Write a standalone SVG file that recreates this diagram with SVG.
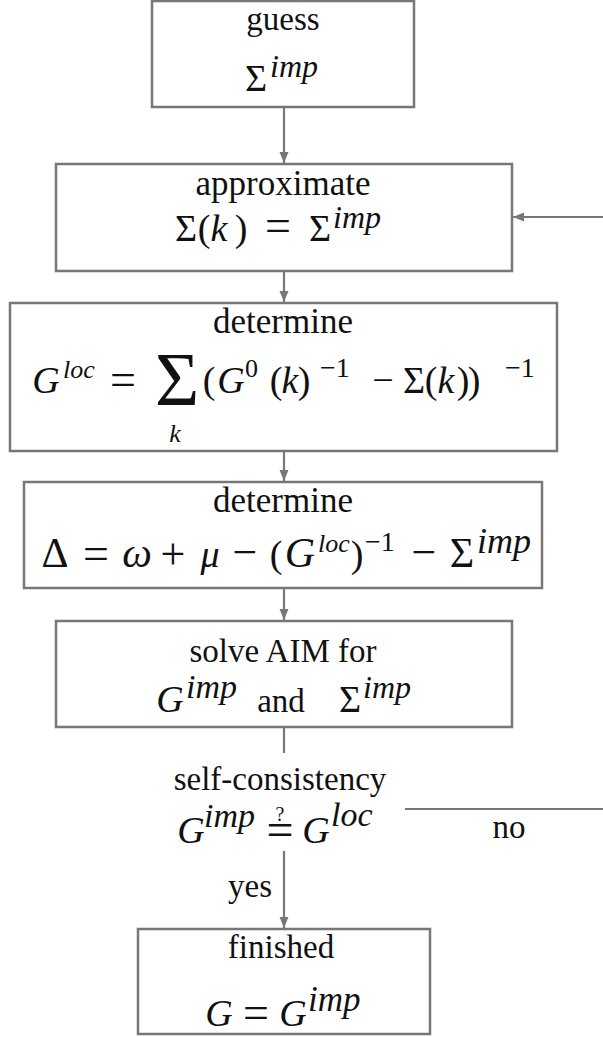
<svg xmlns="http://www.w3.org/2000/svg" width="603" height="1037" viewBox="0 0 603 1037" fill="#111">
<defs>
<marker id="ah" markerUnits="userSpaceOnUse" markerWidth="12" markerHeight="10" refX="11" refY="4.5" orient="auto">
<path d="M0,0 L11,4.5 L0,9 z" fill="#777"/>
</marker>
</defs>
<rect width="603" height="1037" fill="#fff"/>
<g id="connectors" stroke="#777" stroke-width="2.2" fill="none">
<line x1="284" y1="108" x2="284" y2="163" marker-end="url(#ah)"/>
<line x1="284" y1="272" x2="284" y2="302" marker-end="url(#ah)"/>
<line x1="284" y1="452" x2="284" y2="481" marker-end="url(#ah)"/>
<line x1="284" y1="589" x2="284" y2="620" marker-end="url(#ah)"/>
<line x1="284" y1="728" x2="284" y2="753"/>
<line x1="284" y1="851" x2="284" y2="928" marker-end="url(#ah)"/>
<line x1="603" y1="217" x2="513" y2="217" marker-end="url(#ah)"/>
<line x1="405" y1="809" x2="603" y2="809"/>
</g>
<g id="labels" font-size="33" text-anchor="middle">
<text font-family="Liberation Serif" style="font-family:'Liberation Serif',serif" x="250" y="897">yes</text>
<text font-family="Liberation Serif" style="font-family:'Liberation Serif',serif" x="509" y="838">no</text>
</g>
<g id="guess" font-size="38" text-anchor="middle">
<rect x="152" y="1" width="262" height="106" fill="#fff" stroke="#777" stroke-width="2.5"/>
<text font-family="Liberation Serif" style="font-family:'Liberation Serif',serif" x="283" y="30" font-size="33">guess</text>
<text font-family="Liberation Serif" style="font-family:'Liberation Serif',serif" x="256" y="91">Σ</text>
<text font-family="Liberation Serif" style="font-family:'Liberation Serif',serif" x="270" y="77" font-size="32" font-style="italic" text-anchor="start">imp</text>
</g>
<g id="approximate" font-size="38" text-anchor="middle">
<rect x="56" y="164" width="456" height="107" fill="#fff" stroke="#777" stroke-width="2.5"/>
<text font-family="Liberation Serif" style="font-family:'Liberation Serif',serif" x="283" y="195" font-size="35">approximate</text>
<text font-family="Liberation Serif" style="font-family:'Liberation Serif',serif" x="186" y="241">Σ</text>
<text font-family="Liberation Serif" style="font-family:'Liberation Serif',serif" x="204" y="241">(</text>
<text font-family="Liberation Serif" style="font-family:'Liberation Serif',serif" x="219" y="241" font-style="italic">k</text>
<text font-family="Liberation Serif" style="font-family:'Liberation Serif',serif" x="241" y="241">)</text>
<text font-family="Liberation Serif" style="font-family:'Liberation Serif',serif" x="278" y="241" font-size="46">=</text>
<text font-family="Liberation Serif" style="font-family:'Liberation Serif',serif" x="320" y="241">Σ</text>
<text font-family="Liberation Serif" style="font-family:'Liberation Serif',serif" x="333" y="228" font-size="32" font-style="italic" text-anchor="start">imp</text>
</g>
<g id="determine-gloc" font-size="38" text-anchor="middle">
<rect x="10" y="303" width="547" height="148" fill="#fff" stroke="#777" stroke-width="2.5"/>
<text font-family="Liberation Serif" style="font-family:'Liberation Serif',serif" x="283" y="333" font-size="35">determine</text>
<text font-family="Liberation Serif" style="font-family:'Liberation Serif',serif" x="46" y="393" font-style="italic">G</text>
<text font-family="Liberation Serif" style="font-family:'Liberation Serif',serif" x="63" y="378" font-size="26" font-style="italic" text-anchor="start">loc</text>
<text font-family="Liberation Serif" style="font-family:'Liberation Serif',serif" x="123" y="395" font-size="46">=</text>
<text font-family="Liberation Serif" style="font-family:'Liberation Serif',serif" x="177" y="405" font-size="76">Σ</text>
<text font-family="Liberation Serif" style="font-family:'Liberation Serif',serif" x="175" y="442" font-size="26" font-style="italic">k</text>
<text font-family="Liberation Serif" style="font-family:'Liberation Serif',serif" x="209" y="393">(</text>
<text font-family="Liberation Serif" style="font-family:'Liberation Serif',serif" x="231" y="393" font-style="italic">G</text>
<text font-family="Liberation Serif" style="font-family:'Liberation Serif',serif" x="245" y="377" font-size="26" text-anchor="start">0</text>
<text font-family="Liberation Serif" style="font-family:'Liberation Serif',serif" x="276" y="393">(</text>
<text font-family="Liberation Serif" style="font-family:'Liberation Serif',serif" x="290" y="393" font-style="italic">k</text>
<text font-family="Liberation Serif" style="font-family:'Liberation Serif',serif" x="304" y="393">)</text>
<text font-family="Liberation Serif" style="font-family:'Liberation Serif',serif" x="320" y="377" font-size="28" text-anchor="start">−1</text>
<text font-family="Liberation Serif" style="font-family:'Liberation Serif',serif" x="383" y="393">−</text>
<text font-family="Liberation Serif" style="font-family:'Liberation Serif',serif" x="414" y="393">Σ</text>
<text font-family="Liberation Serif" style="font-family:'Liberation Serif',serif" x="431" y="393">(</text>
<text font-family="Liberation Serif" style="font-family:'Liberation Serif',serif" x="446" y="393" font-style="italic">k</text>
<text font-family="Liberation Serif" style="font-family:'Liberation Serif',serif" x="463" y="393">)</text>
<text font-family="Liberation Serif" style="font-family:'Liberation Serif',serif" x="474" y="393">)</text>
<text font-family="Liberation Serif" style="font-family:'Liberation Serif',serif" x="505" y="377" font-size="28" text-anchor="start">−1</text>
</g>
<g id="determine-delta" font-size="38" text-anchor="middle">
<rect x="24" y="482" width="518" height="106" fill="#fff" stroke="#777" stroke-width="2.5"/>
<text font-family="Liberation Serif" style="font-family:'Liberation Serif',serif" x="283" y="512" font-size="35">determine</text>
<text font-family="Liberation Serif" style="font-family:'Liberation Serif',serif" x="55" y="567" font-size="42">Δ</text>
<text font-family="Liberation Serif" style="font-family:'Liberation Serif',serif" x="96" y="569" font-size="46">=</text>
<text font-family="Liberation Serif" style="font-family:'Liberation Serif',serif" x="137" y="567" font-style="italic" font-size="42">ω</text>
<text font-family="Liberation Serif" style="font-family:'Liberation Serif',serif" x="173" y="569" font-size="44">+</text>
<text font-family="Liberation Serif" style="font-family:'Liberation Serif',serif" x="210" y="567" font-style="italic">μ</text>
<text font-family="Liberation Serif" style="font-family:'Liberation Serif',serif" x="245" y="567" font-size="44">−</text>
<text font-family="Liberation Serif" style="font-family:'Liberation Serif',serif" x="276" y="567">(</text>
<text font-family="Liberation Serif" style="font-family:'Liberation Serif',serif" x="300" y="567" font-style="italic" font-size="42">G</text>
<text font-family="Liberation Serif" style="font-family:'Liberation Serif',serif" x="318" y="552" font-size="26" font-style="italic" text-anchor="start">loc</text>
<text font-family="Liberation Serif" style="font-family:'Liberation Serif',serif" x="357" y="567">)</text>
<text font-family="Liberation Serif" style="font-family:'Liberation Serif',serif" x="365" y="551" font-size="28" text-anchor="start">−1</text>
<text font-family="Liberation Serif" style="font-family:'Liberation Serif',serif" x="424" y="567" font-size="44">−</text>
<text font-family="Liberation Serif" style="font-family:'Liberation Serif',serif" x="462" y="567" font-size="42">Σ</text>
<text font-family="Liberation Serif" style="font-family:'Liberation Serif',serif" x="477" y="553" font-size="36" font-style="italic" text-anchor="start">imp</text>
</g>
<g id="solve-aim" font-size="38" text-anchor="middle">
<rect x="56" y="621" width="456" height="106" fill="#fff" stroke="#777" stroke-width="2.5"/>
<text font-family="Liberation Serif" style="font-family:'Liberation Serif',serif" x="283" y="662" font-size="33">solve AIM for</text>
<text font-family="Liberation Serif" style="font-family:'Liberation Serif',serif" x="170" y="712" font-style="italic">G</text>
<text font-family="Liberation Serif" style="font-family:'Liberation Serif',serif" x="186" y="698" font-size="34" font-style="italic" text-anchor="start">imp</text>
<text font-family="Liberation Serif" style="font-family:'Liberation Serif',serif" x="281" y="712" font-size="33">and</text>
<text font-family="Liberation Serif" style="font-family:'Liberation Serif',serif" x="350" y="712">Σ</text>
<text font-family="Liberation Serif" style="font-family:'Liberation Serif',serif" x="363" y="698" font-size="32" font-style="italic" text-anchor="start">imp</text>
</g>
<g id="self-consistency" font-size="38" text-anchor="middle">
<text font-family="Liberation Serif" style="font-family:'Liberation Serif',serif" x="280" y="790" font-size="33">self-consistency</text>
<text font-family="Liberation Serif" style="font-family:'Liberation Serif',serif" x="191" y="843" font-style="italic">G</text>
<text font-family="Liberation Serif" style="font-family:'Liberation Serif',serif" x="204" y="827" font-size="34" font-style="italic" text-anchor="start">imp</text>
<text font-family="Liberation Serif" style="font-family:'Liberation Serif',serif" x="280" y="846" font-size="48">=</text>
<text font-family="Liberation Serif" style="font-family:'Liberation Serif',serif" x="280" y="821" font-size="20">?</text>
<text font-family="Liberation Serif" style="font-family:'Liberation Serif',serif" x="316" y="843" font-style="italic">G</text>
<text font-family="Liberation Serif" style="font-family:'Liberation Serif',serif" x="331" y="826" font-size="34" font-style="italic" text-anchor="start">loc</text>
</g>
<g id="finished" font-size="38" text-anchor="middle">
<rect x="138" y="929" width="292" height="105" fill="#fff" stroke="#777" stroke-width="2.5"/>
<text font-family="Liberation Serif" style="font-family:'Liberation Serif',serif" x="281" y="958" font-size="33">finished</text>
<text font-family="Liberation Serif" style="font-family:'Liberation Serif',serif" x="219" y="1026" font-style="italic">G</text>
<text font-family="Liberation Serif" style="font-family:'Liberation Serif',serif" x="256" y="1028" font-size="46">=</text>
<text font-family="Liberation Serif" style="font-family:'Liberation Serif',serif" x="293" y="1026" font-style="italic">G</text>
<text font-family="Liberation Serif" style="font-family:'Liberation Serif',serif" x="308" y="1011" font-size="35" font-style="italic" text-anchor="start">imp</text>
</g>
</svg>
